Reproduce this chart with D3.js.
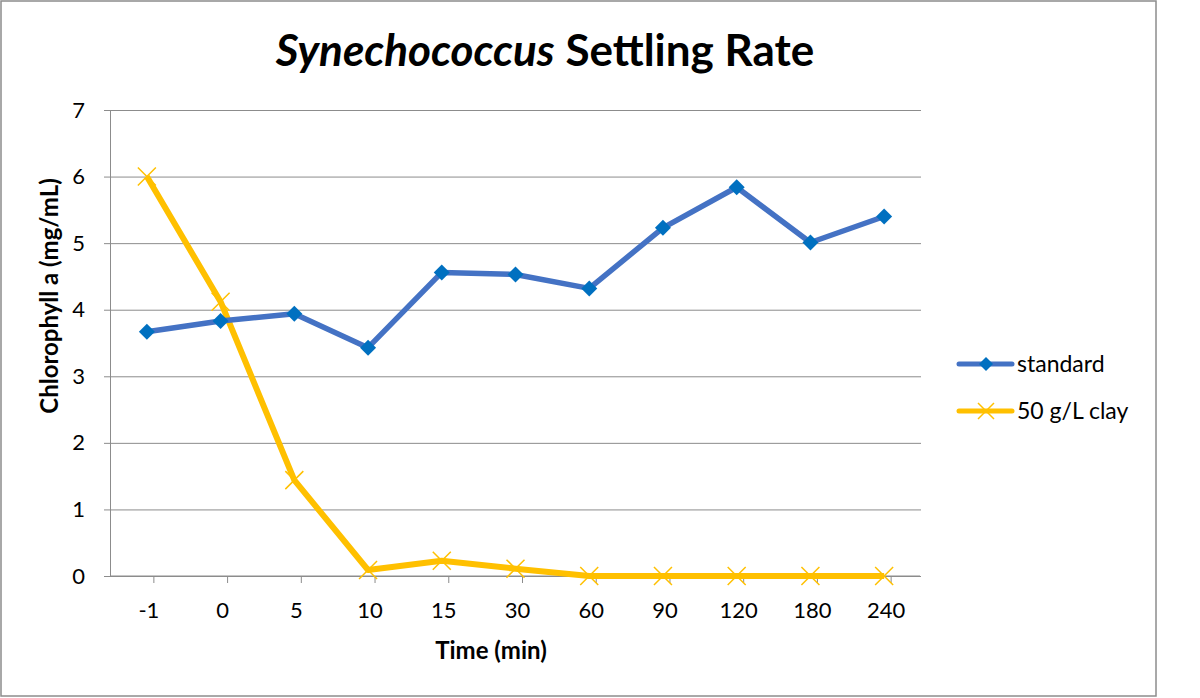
<!DOCTYPE html>
<meta charset="utf-8">
<style>
  body { margin: 0; background: #fff; }
  text { font-family: Lato, "Open Sans", sans-serif; fill: #000; }
</style>
<script src="https://d3js.org/d3.v7.min.js"></script>
<div id="chart"></div>
<script>
// data
const categories = ["-1", "0", "5", "10", "15", "30", "60", "90", "120", "180", "240"];
const standard = [3.67, 3.83, 3.94, 3.43, 4.56, 4.53, 4.32, 5.23, 5.84, 5.01, 5.40];
const clay = [6.0, 4.12, 1.44, 0.09, 0.23, 0.11, 0.0, 0.0, 0.0, 0.0, 0.0];
const yTicks = [0, 1, 2, 3, 4, 5, 6, 7];

const W = 1200, H = 698;
const plot = {left: 110, right: 921, top: 110, bottom: 576};

const svg = d3.select("#chart").append("svg")
    .attr("width", W).attr("height", H);

// chart frame
svg.append("rect")
    .attr("x", 1).attr("y", 1).attr("width", 1155).attr("height", 695)
    .attr("fill", "#fff").attr("stroke", "#8c8c8c").attr("stroke-width", 1.5);

const x = d3.scaleBand().domain(categories).range([plot.left, plot.right]);
const y = d3.scaleLinear().domain([0, 7]).range([plot.bottom, plot.top]);
const cx = d => x(d) + x.bandwidth() / 2;

// gridlines + y ticks
const yAxis = d3.axisLeft(y).tickValues(yTicks).tickFormat(d3.format("d"))
    .tickSize(-(plot.right - plot.left)).tickPadding(25);
const gy = svg.append("g").attr("transform", `translate(${plot.left},0)`).call(yAxis);
gy.select(".domain").attr("stroke", "#8c8c8c");
gy.selectAll(".tick line").attr("stroke", "#8c8c8c").attr("x1", -6);
gy.selectAll(".tick text").attr("font-size", 22).attr("fill", "#000");

// x axis
const gx = svg.append("g").attr("transform", `translate(0,${plot.bottom})`);
gx.append("line").attr("x1", plot.left).attr("x2", plot.right - 1)
    .attr("stroke", "#8c8c8c");
gx.selectAll("line.tk").data(categories).enter().append("line")
    .attr("class", "tk")
    .attr("x1", d => cx(d) + 7).attr("x2", d => cx(d) + 7)
    .attr("y1", 0).attr("y2", 7).attr("stroke", "#8c8c8c");
gx.selectAll("text").data(categories).enter().append("text")
    .attr("x", d => cx(d) + 2).attr("y", 42)
    .attr("text-anchor", "middle").attr("font-size", 22)
    .text(d => d);

// title
const title = svg.append("text").attr("x", 545).attr("y", 66)
    .attr("text-anchor", "middle").attr("font-size", 44).attr("font-weight", 700);
title.append("tspan").attr("font-style", "italic").text("Synechococcus");
title.append("tspan").text(" Settling Rate");

// axis titles
svg.append("text").attr("x", 491).attr("y", 659)
    .attr("text-anchor", "middle").attr("font-size", 24).attr("font-weight", 700)
    .text("Time (min)");
svg.append("text")
    .attr("transform", "translate(58,296) rotate(-90)")
    .attr("text-anchor", "middle").attr("font-size", 24).attr("font-weight", 700)
    .text("Chlorophyll a (mg/mL)");

const line = d3.line().x((d, i) => cx(categories[i])).y(d => y(d));

// clay series
svg.append("path").datum(clay)
    .attr("fill", "none").attr("stroke", "#ffc000").attr("stroke-width", 6)
    .attr("stroke-linejoin", "round").attr("d", line);
function cross(g, px, py, s) {
  g.append("path")
    .attr("d", `M${px - s},${py - s}L${px + s},${py + s}M${px - s},${py + s}L${px + s},${py - s}`)
    .attr("stroke", "#ffc000").attr("stroke-width", 1.5).attr("fill", "none");
}
clay.forEach((v, i) => cross(svg, cx(categories[i]), y(v), 9));

// standard series
svg.append("path").datum(standard)
    .attr("fill", "none").attr("stroke", "#4472c4").attr("stroke-width", 5.5)
    .attr("stroke-linejoin", "round").attr("d", line);
const diamond = (px, py, s) => `M${px},${py - s}L${px + s},${py}L${px},${py + s}L${px - s},${py}Z`;
svg.selectAll("path.dm").data(standard).enter().append("path")
    .attr("class", "dm")
    .attr("d", (d, i) => diamond(cx(categories[i]), y(d), 8))
    .attr("fill", "#0070c0");

// legend
const legend = svg.append("g");
legend.append("line").attr("x1", 959).attr("x2", 1012).attr("y1", 364).attr("y2", 364)
    .attr("stroke", "#4472c4").attr("stroke-width", 5).attr("stroke-linecap", "round");
legend.append("path").attr("d", diamond(986, 364, 7)).attr("fill", "#0070c0");
legend.append("text").attr("x", 1017).attr("y", 372).attr("font-size", 23).text("standard");
legend.append("line").attr("x1", 959).attr("x2", 1012).attr("y1", 411).attr("y2", 411)
    .attr("stroke", "#ffc000").attr("stroke-width", 5).attr("stroke-linecap", "round");
cross(legend, 986, 411, 8);
legend.append("text").attr("x", 1017).attr("y", 419).attr("font-size", 23).text("50 g/L clay");
</script>
